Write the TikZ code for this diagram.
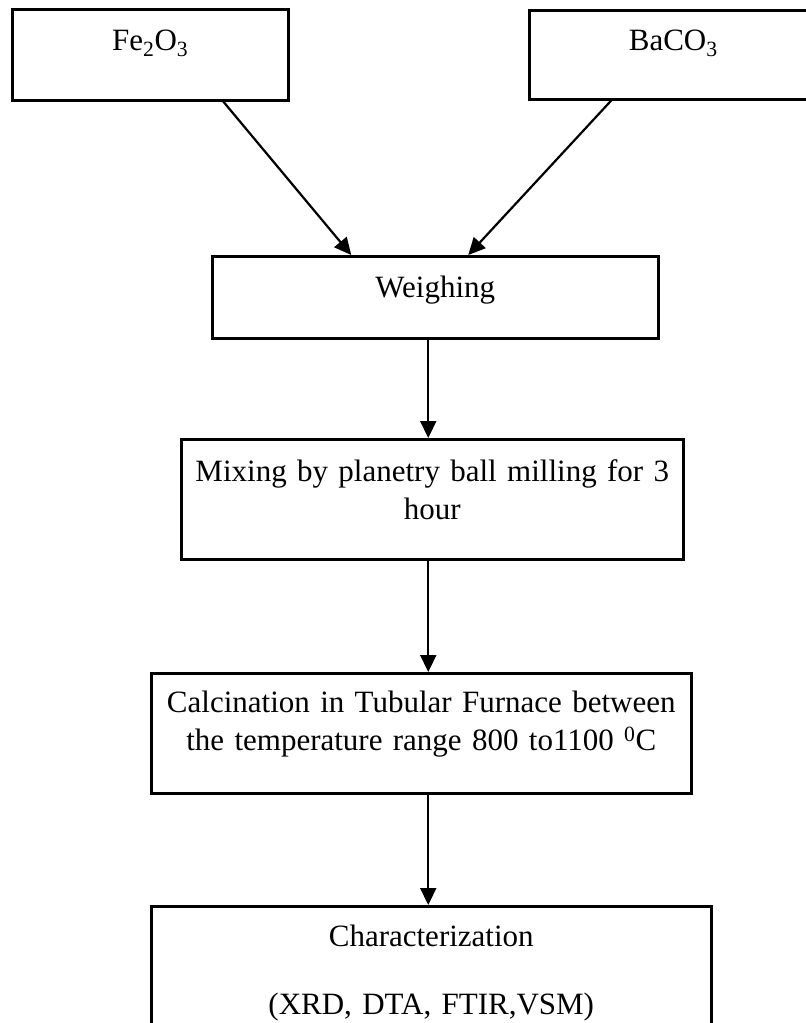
\documentclass[tikz,border=0pt]{standalone}
\usepackage{fontspec}
\setmainfont{Liberation Serif}
\usetikzlibrary{arrows.meta}
\tikzset{
    stepbox/.style={draw,line width=2.5pt,inner xsep=0pt,inner ysep=0pt,
        align=center,anchor=north west,font=\fontsize{31}{38}\selectfont},
    flow/.style={line width=2.2pt,-{Triangle[length=17pt,width=16pt]}},
}
\begin{document}
\begin{tikzpicture}[x=1pt,y=-1pt]
\useasboundingbox (0,0) rectangle (806,1023);
\clip (0,0) rectangle (806,1023);
\node[stepbox,text width=276pt,text height=41pt,text depth=50pt] (fe) at (11,8) {Fe\textsubscript{2}O\textsubscript{3}};
\node[stepbox,text width=288pt,text height=40pt,text depth=49pt] (ba) at (528,9) {BaCO\textsubscript{3}};
\node[stepbox,text width=446pt,text height=41pt,text depth=41pt] (weigh) at (211,255) {Weighing};
\node[stepbox,text width=502pt,text height=42pt,text depth=78pt] (mix) at (180,438) {Mixing by planetry ball milling for 3\\hour};
\node[stepbox,text width=540pt,text height=39pt,text depth=81pt] (calc) at (150,672) {Calcination in Tubular Furnace between\\the temperature range 800 to1100 \textsuperscript{0}C};
\node[stepbox,text width=560pt,text height=40pt,text depth=160pt] (char) at (150,905) {Characterization\\[30pt](XRD, DTA, FTIR,VSM)};
\draw[flow] ([xshift=73pt]fe.south) -- ([xshift=-84pt]weigh.north);
\draw[flow] ([xshift=-62pt]ba.south) -- ([xshift=33pt]weigh.north);
\draw[flow] ([xshift=-7pt]weigh.south) -- ([xshift=-7pt]weigh.south |- mix.north);
\draw[flow] ([xshift=-4pt]mix.south) -- ([xshift=-4pt]mix.south |- calc.north);
\draw[flow] ([xshift=7pt]calc.south) -- ([xshift=7pt]calc.south |- char.north);
%\draw[flow] (char.south) -- ++(0,40);
\end{tikzpicture}
\end{document}
